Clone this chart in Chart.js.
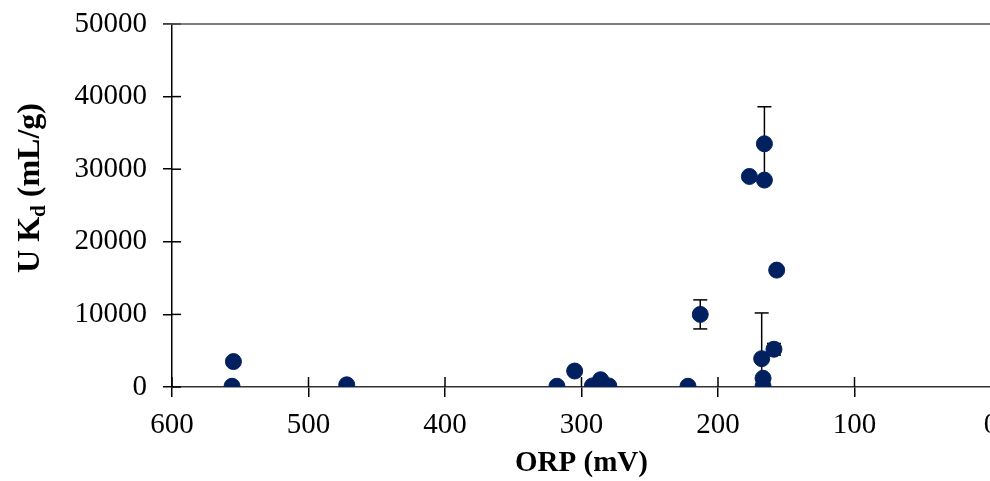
<!DOCTYPE html>
<html>
<head>
<meta charset="utf-8">
<script src="https://cdn.jsdelivr.net/npm/chart.js@4/dist/chart.umd.min.js"></script>
<style>
  html, body { margin: 0; padding: 0; background: #fff; overflow: hidden; }
  #wrap { width: 1000px; height: 481px; }
</style>
</head>
<body>
<div id="wrap"><canvas id="kdChart" width="1000" height="481"></canvas></div>
<script>
// ORP (mV), U Kd (mL/g) and the +/- error for each sample
const orp   = [556, 555, 472, 318, 305, 292, 286, 280, 222, 213, 177, 166, 166, 157, 159, 168, 167, 167];
const kd    = [100, 3500, 300, 100, 2200, 150, 1000, 150, 100, 10000, 29000, 33500, 28500, 16100, 5200, 3900, 1200, 100];
const kdErr = [0, 0, 0, 0, 0, 0, 0, 0, 0, 2000, 0, 5100, 0, 0, 800, 6300, 0, 0];

const xTicks = [600, 500, 400, 300, 200, 100, 0];
const yTicks = [0, 10000, 20000, 30000, 40000, 50000];

const serif = '"Liberation Serif", "Times New Roman", serif';
const navy = '#002060';

function line(ctx, x1, y1, x2, y2) {
  ctx.beginPath();
  ctx.moveTo(x1, y1);
  ctx.lineTo(x2, y2);
  ctx.stroke();
}

// tick marks that cross the axes, the top line and the error bars
const extras = {
  id: 'extras',
  beforeDatasetsDraw(chart) {
    const { ctx, chartArea, scales: { x, y } } = chart;
    ctx.save();
    ctx.lineWidth = 1.5;
    ctx.strokeStyle = '#000';
    yTicks.forEach(v => {
      const py = y.getPixelForValue(v);
      line(ctx, chartArea.left, py, chartArea.left + 9, py);
    });
    xTicks.forEach(v => {
      const px = x.getPixelForValue(v);
      line(ctx, px, chartArea.bottom - 10, px, chartArea.bottom);
    });
    ctx.strokeStyle = '#555';
    const top = y.getPixelForValue(50000);
    line(ctx, chartArea.left - 9, top, chart.width, top);

    // error bars
    ctx.beginPath();
    ctx.rect(chartArea.left, chartArea.top - 2, chartArea.right - chartArea.left, chartArea.bottom - chartArea.top + 2);
    ctx.clip();
    ctx.strokeStyle = '#000';
    ctx.lineWidth = 1.5;
    orp.forEach((v, i) => {
      if (!kdErr[i]) return;
      const px = x.getPixelForValue(v);
      const hi = y.getPixelForValue(kd[i] + kdErr[i]);
      const lo = y.getPixelForValue(kd[i] - kdErr[i]);
      line(ctx, px, hi, px, lo);
      line(ctx, px - 7, hi, px + 7, hi);
      line(ctx, px - 7, lo, px + 7, lo);
    });
    ctx.restore();
  },
  afterDraw(chart) {
    // y axis title with subscript d
    const ctx = chart.ctx;
    const big = 'bold 32px ' + serif;
    const small = 'bold 21px ' + serif;
    ctx.save();
    ctx.translate(28, 188);
    ctx.rotate(-Math.PI / 2);
    ctx.fillStyle = '#000';
    ctx.textBaseline = 'alphabetic';
    ctx.font = big;
    const w1 = ctx.measureText('U K').width;
    const w3 = ctx.measureText(' (mL/g)').width;
    ctx.font = small;
    const w2 = ctx.measureText('d').width;
    let sx = -(w1 + w2 + w3) / 2;
    ctx.font = big;
    ctx.fillText('U K', sx, 11);
    ctx.font = small;
    ctx.fillText('d', sx + w1, 17);
    ctx.font = big;
    ctx.fillText(' (mL/g)', sx + w1 + w2, 11);
    ctx.restore();
  }
};

const ctx = document.getElementById('kdChart');
new Chart(ctx, {
  type: 'scatter',
  data: {
    datasets: [{
      label: 'U Kd',
      data: orp.map((v, i) => ({ x: v, y: kd[i] })),
      pointStyle: 'circle',
      pointRadius: 8,
      pointHoverRadius: 8,
      backgroundColor: navy,
      borderColor: navy,
      borderWidth: 1
    }]
  },
  options: {
    responsive: false,
    animation: false,
    devicePixelRatio: 1,
    layout: { padding: { top: 24, right: 8, left: 0, bottom: 0 } },
    plugins: {
      legend: { display: false },
      tooltip: { enabled: false }
    },
    scales: {
      x: {
        type: 'linear',
        reverse: true,
        min: 0,
        max: 600,
        afterFit: s => { s.height = 94; s.paddingLeft = 0; s.paddingRight = 0; },
        afterBuildTicks: s => { s.ticks = xTicks.map(v => ({ value: v })); },
        ticks: {
          color: '#000',
          padding: 11,
          maxRotation: 0,
          callback: v => String(v),
          font: { family: serif, size: 29 }
        },
        grid: { drawOnChartArea: false, tickLength: 10, color: '#000', lineWidth: 1.5 },
        border: { color: '#333', width: 1.5 },
        title: {
          display: true,
          text: 'ORP (mV)',
          color: '#000',
          padding: { top: 0, bottom: 0 },
          font: { family: serif, size: 29, weight: 'bold' }
        }
      },
      y: {
        min: 0,
        max: 50000,
        afterFit: s => { s.width = 172; s.paddingTop = 0; s.paddingBottom = 0; },
        afterBuildTicks: s => { s.ticks = yTicks.map(v => ({ value: v })); },
        ticks: {
          color: '#000',
          padding: 16,
          callback: v => String(v),
          font: { family: serif, size: 29 }
        },
        grid: { drawOnChartArea: false, tickLength: 9, color: '#000', lineWidth: 1.5 },
        border: { color: '#000', width: 1.5 }
      }
    }
  },
  plugins: [extras]
});
</script>
</body>
</html>
